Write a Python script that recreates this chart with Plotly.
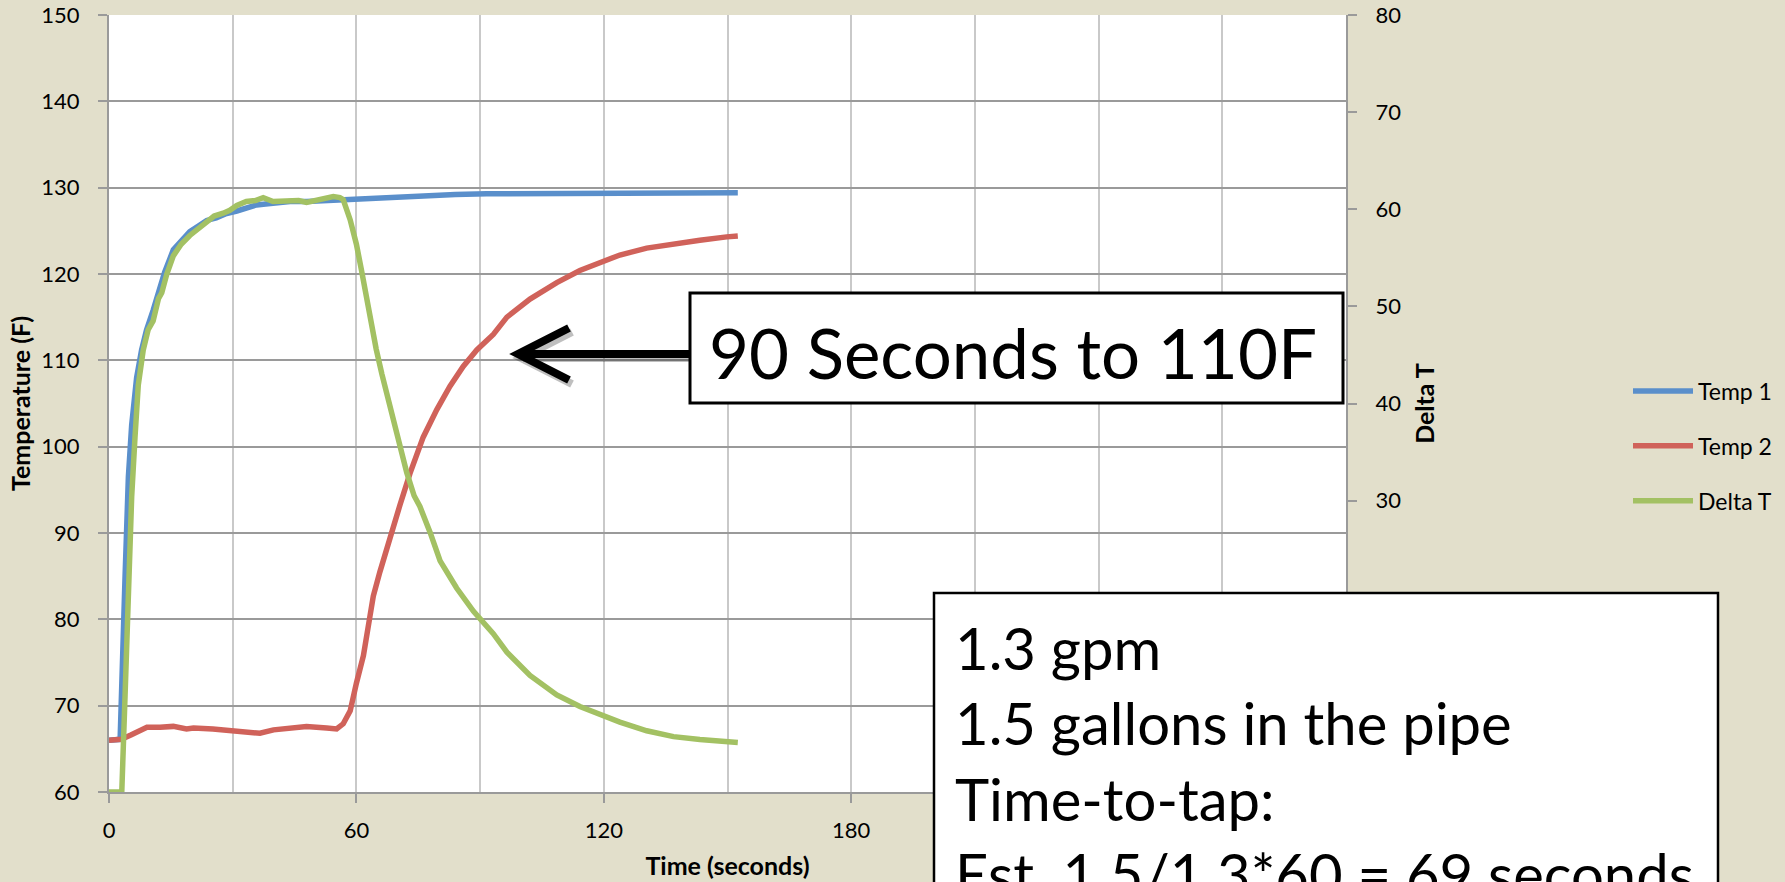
import plotly.graph_objects as go

# ---------------- data ----------------
t_temp1 = [0, 2.7, 3.9, 4.7, 5.5, 6.7, 7.9, 9.1, 10.7, 12, 13.5, 15.6, 17.5, 19.6, 21.5,
           23.7, 26, 28.5, 31, 33.5, 35.8, 38, 40, 43.9, 48, 52, 54.3, 58, 64.1, 70,
           76.2, 84, 91.6, 100, 110, 120, 130, 140, 152.5]
temp1 = [66, 66.1, 85, 96.5, 102.5, 108, 111.2, 113.5, 115.8, 117.8, 120.2, 122.8, 123.9,
         124.9, 125.5, 126.2, 126.5, 127.0, 127.3, 127.7, 128.0, 128.1, 128.2, 128.4, 128.4,
         128.5, 128.6, 128.7, 128.8, 128.9, 129.1, 129.2, 129.3, 129.3, 129.3, 129.4, 129.4,
         129.4, 129.4]

t_temp2 = [0, 3, 5.3, 9.2, 12.4, 15.6, 18.8, 20.5, 25.2, 30, 33, 36.6, 39.9, 44.7, 47.9,
           52.8, 55.2, 56.8, 58.5, 60, 61.7, 63.3, 64.1, 65.7, 68.2, 70.6, 73, 76.2, 79.5,
           82.7, 85.9, 89.2, 93.2, 96.5, 102.1, 108.6, 114.2, 119, 123.9, 130.4, 136.9,
           143.3, 149.8, 152.5]
temp2 = [66, 66.1, 66.6, 67.5, 67.5, 67.6, 67.3, 67.4, 67.3, 67.1, 67.0, 66.8, 67.2, 67.5,
         67.6, 67.4, 67.3, 67.9, 69.4, 72.6, 75.8, 80.4, 82.7, 85.5, 89.6, 93.3, 96.9, 101.1,
         104.3, 107.0, 109.3, 111.2, 113.0, 115.0, 117.1, 119.0, 120.4, 121.3, 122.2, 123.0,
         123.5, 123.9, 124.3, 124.4]

t_delta = [0, 3.1, 3.9, 4.7, 5.5, 6.3, 7.1, 8.3, 9.5, 10.7, 12, 12.8, 14, 15.6, 17.5, 19.6,
           21.5, 23.7, 25.5, 27.7, 29.3, 31, 33.3, 35.5, 37.4, 39.8, 41.5, 43.9, 46, 47.9,
           50, 52, 54.4, 56, 56.8, 58.5, 60, 61.2, 62.4, 63.6, 64.8, 66.2, 67.6, 69.0, 70.5,
           72.2, 74.0, 75.4, 77.9, 80.3, 84.3, 88.4, 93.2, 96.5, 102.1, 108.6, 114.2, 119,
           123.9, 130.4, 136.9, 143.3, 149.8, 152.5]
delta_t = [0, 0, 10.0, 22.2, 30.4, 36.5, 41.9, 45.5, 47.6, 48.5, 50.8, 51.4, 53.3, 55.2,
           56.4, 57.3, 58.0, 58.8, 59.3, 59.6, 59.9, 60.4, 60.8, 60.9, 61.2, 60.8, 60.8, 60.9,
           60.9, 60.7, 60.9, 61.1, 61.3, 61.2, 61.0, 58.9, 56.4, 53.8, 50.9, 48.2, 45.6, 43.0,
           40.5, 38.2, 35.7, 32.9, 30.5, 29.4, 26.7, 23.8, 21.0, 18.6, 16.3, 14.4, 12.0, 10.0,
           8.8, 8.0, 7.2, 6.3, 5.7, 5.4, 5.1, 5.1]

series_names = ["Temp 1", "Temp 2", "Delta T"]
series_colors = ["#5A8FCB", "#D0625A", "#A3C163"]

x_ticks = [0, 60, 120, 180, 240, 300]
x_ticktext = ["0", "60", "120", "180", "", ""]          # 240 / 300 sit under the note box
y_ticks = [60, 70, 80, 90, 100, 110, 120, 130, 140, 150]
y2_ticks = [0, 10, 20, 30, 40, 50, 60, 70, 80]
y2_ticktext = ["", "", "", "30", "40", "50", "60", "70", "80"]  # 0-20 sit under the box

callout_main = "90 Seconds to 110F"
callout_lines = ["1.3 gpm", "1.5 gallons in the pipe", "Time-to-tap:",
                 "Est. 1.5/1.3*60 = 69 seconds"]

# ---------------- layout helpers ----------------
W, H = 1785, 882
FONT = "Lato, Carlito, Calibri, sans-serif"


def px(x):
    return x / W


def py(y):
    return 1 - y / H


fig = go.Figure()
fig.add_trace(go.Scatter(x=t_temp1, y=temp1, name=series_names[0], mode="lines",
                         line=dict(color=series_colors[0], width=5.5), legendgroup="a"))
fig.add_trace(go.Scatter(x=t_temp2, y=temp2, name=series_names[1], mode="lines",
                         line=dict(color=series_colors[1], width=5.5), legendgroup="b"))
fig.add_trace(go.Scatter(x=t_delta, y=delta_t, name=series_names[2], mode="lines",
                         line=dict(color=series_colors[2], width=5.5), yaxis="y2",
                         legendgroup="c"))

axis_gray = "#9A9A9A"
fig.update_layout(
    template="none",
    width=W, height=H,
    margin=dict(l=0, r=0, t=0, b=0, autoexpand=False),
    paper_bgcolor="#E2DFCB",
    plot_bgcolor="#FFFFFF",
    font=dict(family=FONT, size=22, color="#000000"),
    showlegend=True,
    legend=dict(x=px(1628), y=py(446), xanchor="left", yanchor="middle",
                font=dict(size=23, family=FONT), bgcolor="rgba(0,0,0,0)",
                borderwidth=0, tracegroupgap=22, itemwidth=60, traceorder="grouped"),
    xaxis=dict(domain=[px(109), px(1346)], range=[0, 300], tickvals=x_ticks,
               ticktext=x_ticktext, automargin=False,
               ticks="outside", ticklen=9, tickwidth=2, tickcolor=axis_gray,
               showline=True, linecolor=axis_gray, linewidth=2,
               showgrid=True, gridcolor="#C9C9C9", gridwidth=2, zeroline=False,
               minor=dict(dtick=30, tick0=0, showgrid=True, gridcolor="#C9C9C9",
                          gridwidth=2, ticks=""),
               ticklabelstandoff=9,
               title=dict(text="<b>Time (seconds)</b>", standoff=15,
                          font=dict(size=25, family=FONT))),
    yaxis=dict(domain=[py(792), py(15)], range=[60, 150], tickvals=y_ticks,
               automargin=False,
               ticks="outside", ticklen=9, tickwidth=2, tickcolor=axis_gray,
               showline=True, linecolor=axis_gray, linewidth=2,
               showgrid=True, gridcolor=axis_gray, gridwidth=2, zeroline=False,
               ticklabelstandoff=14,
               title=dict(text="<b>Temperature (F)</b>", standoff=4,
                          font=dict(size=25, family=FONT))),
    yaxis2=dict(overlaying="y", side="right", anchor="x", range=[0, 80],
                automargin=False, tickvals=y2_ticks, ticktext=y2_ticktext,
                ticks="outside", ticklen=9, tickwidth=2,
                tickcolor=axis_gray, showline=True, linecolor=axis_gray, linewidth=2,
                showgrid=False, zeroline=False, ticklabelstandoff=14,
                title=dict(text="<b>Delta T</b>", standoff=16,
                           font=dict(size=25, family=FONT))),
)

# ---- callout 1 with arrow ----
shapes = []
shadow = "rgba(0,0,0,0.25)"
arrow_path = "M {a},{b} L {c},{d} L {a},{e}".format(a=px(569), b=py(328), c=px(518),
                                                     d=py(354), e=py(380))
shaft_path = "M {a},{b} L {c},{b}".format(a=px(520), b=py(354), c=px(690))
shadow_arrow = "M {a},{b} L {c},{d} L {a},{e}".format(a=px(572), b=py(332), c=px(521),
                                                      d=py(358), e=py(384))
shadow_shaft = "M {a},{b} L {c},{b}".format(a=px(523), b=py(358), c=px(690))
for p, col in [(shadow_arrow, shadow), (shadow_shaft, shadow),
               (arrow_path, "#000000"), (shaft_path, "#000000")]:
    shapes.append(dict(type="path", path=p, xref="paper", yref="paper",
                       line=dict(color=col, width=8), layer="above"))
shapes.append(dict(type="rect", xref="paper", yref="paper", x0=px(690), x1=px(1343),
                   y0=py(403), y1=py(293), fillcolor="#FFFFFF",
                   line=dict(color="#000000", width=3), layer="above"))
# ---- callout 2 ----
shapes.append(dict(type="rect", xref="paper", yref="paper", x0=px(934), x1=px(1718),
                   y0=py(930), y1=py(593), fillcolor="#FFFFFF",
                   line=dict(color="#000000", width=2.5), layer="above"))
fig.update_layout(shapes=shapes)

fig.add_annotation(text=callout_main, xref="paper", yref="paper", x=px(707), y=py(352),
                   xanchor="left", yanchor="middle", showarrow=False,
                   font=dict(size=69, family=FONT, color="#000000"))
# four-line note, 58px font -> 1.3 line spacing (~75px) like the reference
fig.add_annotation(text="<br>".join(callout_lines), xref="paper", yref="paper",
                   x=px(953), y=py(760), xanchor="left", yanchor="middle", align="left",
                   showarrow=False, font=dict(size=58, family=FONT, color="#000000"))

fig.write_html("out.html", config={"displayModeBar": False},
               post_script="document.body.style.margin='0px';"
                           "document.body.style.overflow='hidden';")
